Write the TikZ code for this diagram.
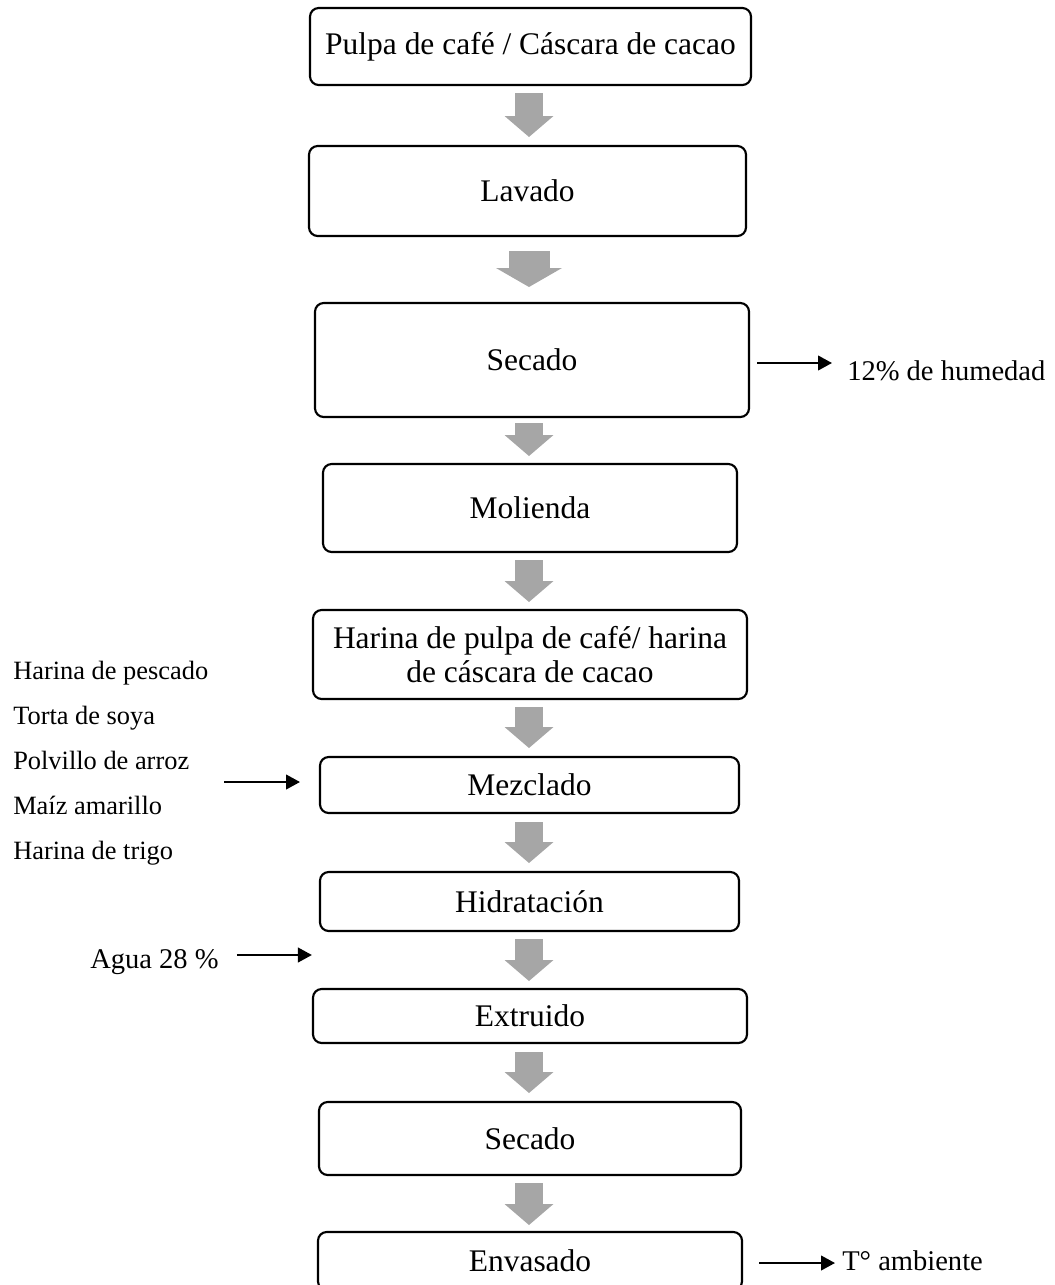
\documentclass[tikz,border=0pt]{standalone}
\usepackage{fontspec}
\setmainfont{Liberation Serif}
\usetikzlibrary{arrows.meta,calc}
\definecolor{arrgray}{RGB}{166,166,166}
\tikzset{
  stepbox/.style={draw, line width=1.6pt, rounded corners=6.5pt, align=center,
    inner sep=0pt, outer sep=0pt, font=\fontsize{23.6}{25.5}\selectfont},
  blk/.style={draw=arrgray, line width=21pt,
    -{Triangle[width=36.75pt,length=15.75pt,line width=0pt]}},
  blkwide/.style={draw=arrgray, line width=30.75pt,
    -{Triangle[width=49.5pt,length=14.25pt,line width=0pt]}},
  sidearrow/.style={line width=1.6pt, -{Triangle[width=11pt,length=10.5pt]}},
  sidelbl/.style={inner sep=0pt, anchor=base west, font=\fontsize{21.4}{25}\selectfont},
  leftlbl/.style={inner sep=0pt, anchor=base west, font=\fontsize{19.8}{24}\selectfont},
}
\begin{document}
\begin{tikzpicture}[x=0.75pt,y=-0.75pt]
\useasboundingbox (0,0) rectangle (1054,1285);
\clip (0,0) rectangle (1054,1285);
\coordinate (ax) at (529,0);

\node[stepbox, minimum width=330.75pt, minimum height=57.75pt] (b1) at (530.5,46.5) {Pulpa de café / Cáscara de cacao};
\node[stepbox, minimum width=327.75pt, minimum height=67.5pt] (b2) at (527.5,191) {Lavado};
\node[stepbox, minimum width=325.5pt, minimum height=85.5pt] (b3) at (532,360) {Secado};
\node[stepbox, minimum width=310.5pt, minimum height=66pt] (b4) at (530,508) {Molienda};
\node[stepbox, minimum width=325.5pt, minimum height=66.75pt] (b5) at (530,654.5) {Harina de pulpa de café/ harina\\de cáscara de cacao};
\node[stepbox, minimum width=314.25pt, minimum height=42pt] (b6) at (529.5,785) {Mezclado};
\node[stepbox, minimum width=314.25pt, minimum height=44.25pt] (b7) at (529.5,901.5) {Hidratación};
\node[stepbox, minimum width=325.5pt, minimum height=40.5pt] (b8) at (530,1016) {Extruido};
\node[stepbox, minimum width=316.5pt, minimum height=54.75pt] (b9) at (530,1138.5) {Secado};
\node[stepbox, minimum width=318pt, minimum height=43.5pt] (b10) at (530,1261) {Envasado};

\draw[blk] ($(b1.south -| ax)+(0,8)$) -- ($(b2.north -| ax)+(0,-9)$);
\draw[blkwide] ($(b2.south -| ax)+(0,15)$) -- ($(b3.north -| ax)+(0,-16)$);
\draw[blk] ($(b3.south -| ax)+(0,6)$) -- ($(b4.north -| ax)+(0,-8)$);
\draw[blk] ($(b4.south -| ax)+(0,8)$) -- ($(b5.north -| ax)+(0,-8)$);
\draw[blk] ($(b5.south -| ax)+(0,8)$) -- ($(b6.north -| ax)+(0,-9)$);
\draw[blk] ($(b6.south -| ax)+(0,9)$) -- ($(b7.north -| ax)+(0,-9)$);
\draw[blk] ($(b7.south -| ax)+(0,8)$) -- ($(b8.north -| ax)+(0,-8)$);
\draw[blk] ($(b8.south -| ax)+(0,9)$) -- ($(b9.north -| ax)+(0,-9)$);
\draw[blk] ($(b9.south -| ax)+(0,8)$) -- ($(b10.north -| ax)+(0,-7)$);

\node[sidelbl] (hum) at (847,380) {12\% de humedad};
\draw[sidearrow] ($(b3.east)+(8,3)$) -- ++(75,0);

\node[sidelbl] (tamb) at (842,1270) {T° ambiente};
\draw[sidearrow] ($(b10.east)+(17,2)$) -- ++(76,0);

\node[leftlbl] (l1) at (13,679) {Harina de pescado};
\node[leftlbl] (l2) at (13,724) {Torta de soya};
\node[leftlbl] (l3) at (13,769) {Polvillo de arroz};
\node[leftlbl] (l4) at (13,814) {Maíz amarillo};
\node[leftlbl] (l5) at (13,859) {Harina de trigo};
\draw[sidearrow] ($(b6.west)+(-96,-3)$) -- ++(76,0);

\node[sidelbl] (agua) at (90,968) {Agua 28 \%};
\draw[sidearrow] ($(agua.base east)+(18,-13)$) -- ++(75,0);
\end{tikzpicture}
\end{document}
